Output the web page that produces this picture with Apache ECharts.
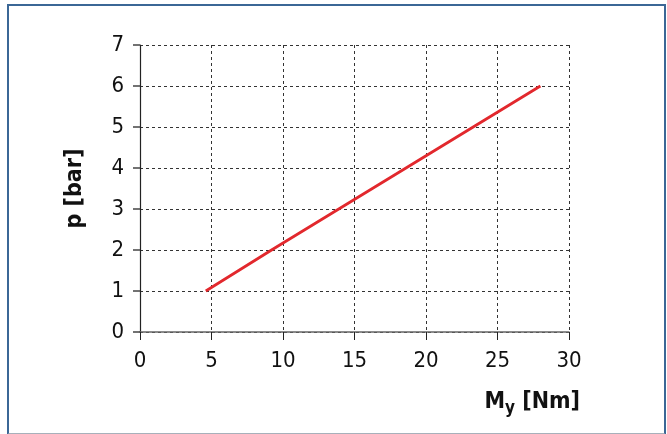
<!DOCTYPE html>
<html>
<head>
<meta charset="utf-8">
<script src="https://cdn.jsdelivr.net/npm/echarts@6/dist/echarts.min.js"></script>
<style>
html,body{margin:0;padding:0;background:#fff;}
#frame{position:absolute;left:7px;top:4px;width:655px;height:427px;border-left:2px solid #3b6796;border-top:2px solid #3b6796;border-right:2px solid #3b6796;border-bottom:2px solid #a7b0ba;}
#chart{position:absolute;left:0;top:0;width:667px;height:434px;}
</style>
</head>
<body>
<div id="frame"></div>
<div id="chart"></div>
<script>
const torque = [4.6, 9.2, 13.9, 18.6, 23.3, 28];
const pressure = [1, 2, 3, 4, 5, 6];
const xTicks = [0, 5, 10, 15, 20, 25, 30];
const yTicks = [0, 1, 2, 3, 4, 5, 6, 7];

const FONT = '"DejaVu Sans Condensed", "Liberation Sans Narrow", sans-serif';
const chart = echarts.init(document.getElementById('chart'));
chart.setOption({
  animation: false,
  grid: {left: 140, right: 98, top: 45, bottom: 102},
  xAxis: {
    type: 'value', min: xTicks[0], max: xTicks[xTicks.length-1], interval: 5,
    name: '{m|M}{s|y}{m| [Nm]}', nameLocation: 'end', nameGap: 11,
    nameTextStyle: {align: 'right', verticalAlign: 'top', padding: [56,0,0,0],
      rich: {m: {fontFamily: FONT, fontSize: 23, fontWeight: 'bold', color: '#111'},
             s: {fontFamily: FONT, fontSize: 17, fontWeight: 'bold', color: '#111', verticalAlign: 'bottom', padding: [12,0,0,0]}}},
    axisLine: {lineStyle: {color: '#666', width: 1.5}},
    axisTick: {show: true, length: 8, lineStyle: {color: '#222'}},
    axisLabel: {fontFamily: FONT, fontSize: 22, color: '#111', margin: 18},
    splitLine: {show: true, lineStyle: {color: '#333', type: [3,3], width: 1}}
  },
  yAxis: {
    type: 'value', min: yTicks[0], max: yTicks[yTicks.length-1], interval: 1,
    name: 'p [bar]', nameLocation: 'middle', nameGap: 53,
    nameTextStyle: {fontFamily: FONT, fontSize: 23, fontWeight: 'bold', color: '#111'},
    axisLine: {show: true, lineStyle: {color: '#222', width: 1.2}},
    axisTick: {show: true, length: 7, lineStyle: {color: '#444', width: 1.5}},
    axisLabel: {fontFamily: FONT, fontSize: 22, color: '#111', margin: 16},
    splitLine: {show: true, lineStyle: {color: '#333', type: [3,3], width: 1}}
  },
  series: [{
    type: 'line',
    data: torque.map((t, i) => [t, pressure[i]]),
    showSymbol: false,
    lineStyle: {color: '#e2282d', width: 2.8},
    silent: true
  }]
});
</script>
</body>
</html>
